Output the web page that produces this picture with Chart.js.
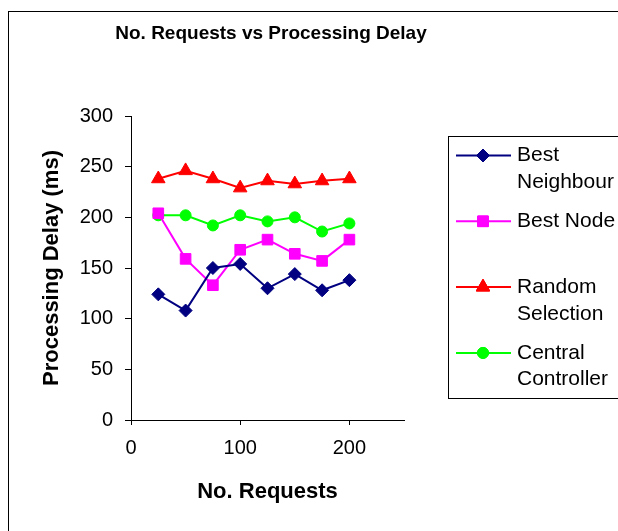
<!DOCTYPE html>
<html><head><meta charset="utf-8">
<style>html,body{margin:0;padding:0;background:#fff;overflow:hidden;} #wrap{position:relative;width:618px;height:531px;}</style>
<script src="https://cdn.jsdelivr.net/npm/chart.js@4/dist/chart.umd.min.js"></script>
</head><body><div id="wrap"><canvas id="c" width="618" height="531"></canvas></div>
<script>
const chartTitle = 'No. Requests vs Processing Delay';
const xAxisTitle = 'No. Requests';
const yAxisTitle = 'Processing Delay (ms)';
const requests = [25, 50, 75, 100, 125, 150, 175, 200];
const bestNeighbour = [124, 108, 150, 154, 130, 144, 128, 138];
const bestNode = [204, 159, 133, 168, 178, 164, 157, 178];
const randomSelection = [238, 246, 238, 229, 236, 233, 236, 238];
const centralController = [202, 202, 192, 202, 196, 200, 186, 194];
const seriesNames = ['Best Neighbour', 'Best Node', 'Random Selection', 'Central Controller'];
const legendLines = [['Best', 'Neighbour'], ['Best Node'], ['Random', 'Selection'], ['Central', 'Controller']];
const xTickValues = [0, 100, 200];
const yTickValues = [0, 50, 100, 150, 200, 250, 300];

const FONT = "'Liberation Sans', Arial, sans-serif";
const colors = ['#000080', '#FF00FF', '#FF0000', '#00FF00'];
const pointStyles = ['rectRot', 'rect', 'triangle', 'circle'];
const radii = [6.5, 7.5, 7.8, 5.5];
const seriesValues = [bestNeighbour, bestNode, randomSelection, centralController];

const datasets = seriesValues.map((vals, i) => ({
  label: seriesNames[i],
  data: requests.map((x, j) => ({ x: x, y: vals[j] })),
  borderColor: colors[i],
  backgroundColor: colors[i],
  pointBackgroundColor: colors[i],
  pointBorderColor: colors[i],
  pointStyle: pointStyles[i],
  pointRadius: radii[i],
  pointHoverRadius: radii[i],
  pointBorderWidth: 1,
  borderWidth: 2,
  tension: 0,
  fill: false
}));

function drawMarker(ctx, style, r, x, y, color) {
  if (Chart.helpers && Chart.helpers.drawPoint) {
    ctx.fillStyle = color; ctx.strokeStyle = color; ctx.lineWidth = 1;
    Chart.helpers.drawPoint(ctx, { pointStyle: style, radius: r, rotation: 0, borderWidth: 1 }, x, y);
    ctx.fill(); ctx.stroke();
  }
}

const decorPlugin = {
  id: 'decor',
  beforeDraw(chart) {
    const ctx = chart.ctx;
    ctx.save();
    ctx.fillStyle = '#fff';
    ctx.fillRect(0, 0, chart.width, chart.height);
    ctx.strokeStyle = '#000';
    ctx.lineWidth = 1;
    ctx.strokeRect(8.5, 11.5, 700, 700);
    ctx.restore();
  },
  afterDraw(chart) {
    const ctx = chart.ctx;
    ctx.save();
    // title
    ctx.fillStyle = '#000';
    ctx.font = 'bold 19px ' + FONT;
    ctx.textAlign = 'center';
    ctx.textBaseline = 'middle';
    ctx.fillText(chartTitle, 271, 34);
    // legend
    ctx.strokeStyle = '#000';
    ctx.lineWidth = 1;
    ctx.strokeRect(448.5, 136.5, 200, 262);
    ctx.font = '21px ' + FONT;
    ctx.textAlign = 'left';
    chart.data.datasets.forEach((ds, i) => {
      const y = 155.5 + i * 65.8;
      ctx.strokeStyle = ds.borderColor;
      ctx.lineWidth = 2;
      ctx.beginPath(); ctx.moveTo(456, y); ctx.lineTo(511, y); ctx.stroke();
      drawMarker(ctx, ds.pointStyle, ds.pointRadius, 483, y, ds.borderColor);
      ctx.fillStyle = '#000';
      legendLines[i].forEach((t, k) => ctx.fillText(t, 517, y + k * 26.7));
    });
    ctx.restore();
  }
};

new Chart(document.getElementById('c'), {
  type: 'line',
  data: { datasets: datasets },
  plugins: [decorPlugin],
  options: {
    responsive: false,
    animation: false,
    layout: { padding: { left: 0, top: 116, right: 214, bottom: 0 } },
    plugins: { legend: { display: false }, title: { display: false }, tooltip: { enabled: false } },
    scales: {
      x: {
        type: 'linear', min: 0, max: 250,
        afterBuildTicks: s => { s.ticks = xTickValues.map(v => ({ value: v })); },
        afterFit: s => { s.height = 111; },
        grid: { drawOnChartArea: false, drawTicks: true, tickLength: 5, tickColor: '#000', color: '#000' },
        border: { color: '#000', width: 1 },
        ticks: { color: '#000', font: { family: FONT, size: 20 }, padding: 11, maxRotation: 0 },
        title: { display: true, text: xAxisTitle, color: '#000', font: { family: FONT, size: 22, weight: 'bold' }, padding: { top: 26, bottom: 26 } }
      },
      y: {
        type: 'linear', min: 0, max: 300,
        afterBuildTicks: s => { s.ticks = yTickValues.map(v => ({ value: v })); },
        afterFit: s => { s.width = 131; },
        grid: { drawOnChartArea: false, drawTicks: true, tickLength: 6, tickColor: '#000', color: '#000' },
        border: { color: '#000', width: 1 },
        ticks: { color: '#000', font: { family: FONT, size: 20 }, padding: 12 },
        title: { display: true, text: yAxisTitle, color: '#000', font: { family: FONT, size: 22, weight: 'bold' }, padding: { top: 39, bottom: 0 } }
      }
    }
  }
});
</script>
</body></html>
